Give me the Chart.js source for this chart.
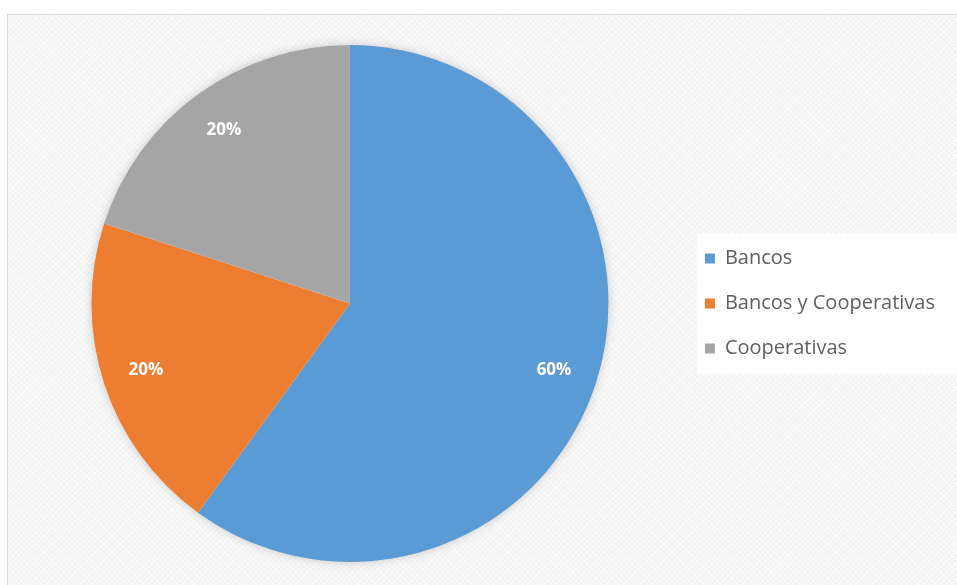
<!DOCTYPE html>
<html>
<head>
<meta charset="utf-8">
<script src="https://cdn.jsdelivr.net/npm/chart.js@4/dist/chart.umd.min.js"></script>
<style>
  html, body { margin: 0; padding: 0; background: #fff; }
  body { width: 957px; height: 585px; overflow: hidden; position: relative; }
  /* chart frame with the light crosshatch fill */
  #frame {
    position: absolute; left: 7px; top: 14px; width: 949px; height: 570px;
    border-left: 1px solid #d9d9d9; border-top: 1px solid #d9d9d9;
    background-color: #f4f4f4;
    background-image:
      repeating-linear-gradient(45deg, rgba(255,255,255,0.55) 0 1px, transparent 1px 4px),
      repeating-linear-gradient(-45deg, rgba(255,255,255,0.55) 0 1px, transparent 1px 4px);
  }
</style>
</head>
<body>
<div id="frame"><canvas id="pie-chart"></canvas></div>
<script>
// Tipo de entidad
var categories = ['Bancos', 'Bancos y Cooperativas', 'Cooperativas'];
var percentages = [60, 20, 20];
var sliceColors = ['#5b9bd5', '#ed7d31', '#a5a5a5'];

// White panel behind the legend
var legendPanel = {
    id: 'legendPanel',
    beforeDraw: function (chart) {
        var legend = chart.legend;
        if (!legend || !legend.legendHitBoxes.length) return;
        var boxes = legend.legendHitBoxes;
        var first = boxes[0], last = boxes[boxes.length - 1];
        var ctx = chart.ctx;
        ctx.save();
        ctx.fillStyle = '#ffffff';
        ctx.fillRect(first.left - 8, first.top - 15, chart.width - first.left + 8, last.top + last.height - first.top + 30);
        ctx.restore();
    }
};

// Soft shadow under the whole pie
var pieShadow = {
    id: 'pieShadow',
    beforeDatasetsDraw: function (chart) {
        var arc = chart.getDatasetMeta(0).data[0];
        if (!arc) return;
        var ctx = chart.ctx;
        ctx.save();
        ctx.shadowColor = 'rgba(0,0,0,0.22)';
        ctx.shadowBlur = 12;
        ctx.fillStyle = '#ffffff';
        ctx.beginPath();
        ctx.arc(arc.x, arc.y, arc.outerRadius - 1, 0, Math.PI * 2);
        ctx.fill();
        ctx.restore();
    }
};

// Percentage labels inside each slice
var sliceLabels = {
    id: 'sliceLabels',
    afterDatasetsDraw: function (chart) {
        var ctx = chart.ctx;
        var values = chart.data.datasets[0].data;
        ctx.save();
        ctx.fillStyle = '#ffffff';
        ctx.font = 'bold 17px "Open Sans"';
        ctx.textAlign = 'center';
        ctx.textBaseline = 'middle';
        chart.getDatasetMeta(0).data.forEach(function (arc, i) {
            var mid = (arc.startAngle + arc.endAngle) / 2;
            var r = arc.outerRadius * 0.83;
            ctx.fillText(values[i] + '%', arc.x + Math.cos(mid) * r, arc.y + Math.sin(mid) * r);
        });
        ctx.restore();
    }
};

var ctx = document.getElementById('pie-chart');
var chart = new Chart(ctx, {
    type: 'pie',
    data: {
        labels: categories,
        datasets: [{
            label: 'Tipo de entidad',
            data: percentages,
            backgroundColor: sliceColors,
            borderWidth: 0
        }]
    },
    options: {
        responsive: true,
        maintainAspectRatio: false,
        animation: false,
        layout: { padding: { top: 30, bottom: 23, left: 12, right: 12 } },
        plugins: {
            legend: {
                position: 'right',
                labels: {
                    boxWidth: 10,
                    boxHeight: 10,
                    padding: 25,
                    color: '#5f5f5f',
                    font: { family: '"Open Sans"', size: 20 }
                }
            },
            tooltip: { enabled: false }
        }
    },
    plugins: [legendPanel, pieShadow, sliceLabels]
});
</script>
</body>
</html>
